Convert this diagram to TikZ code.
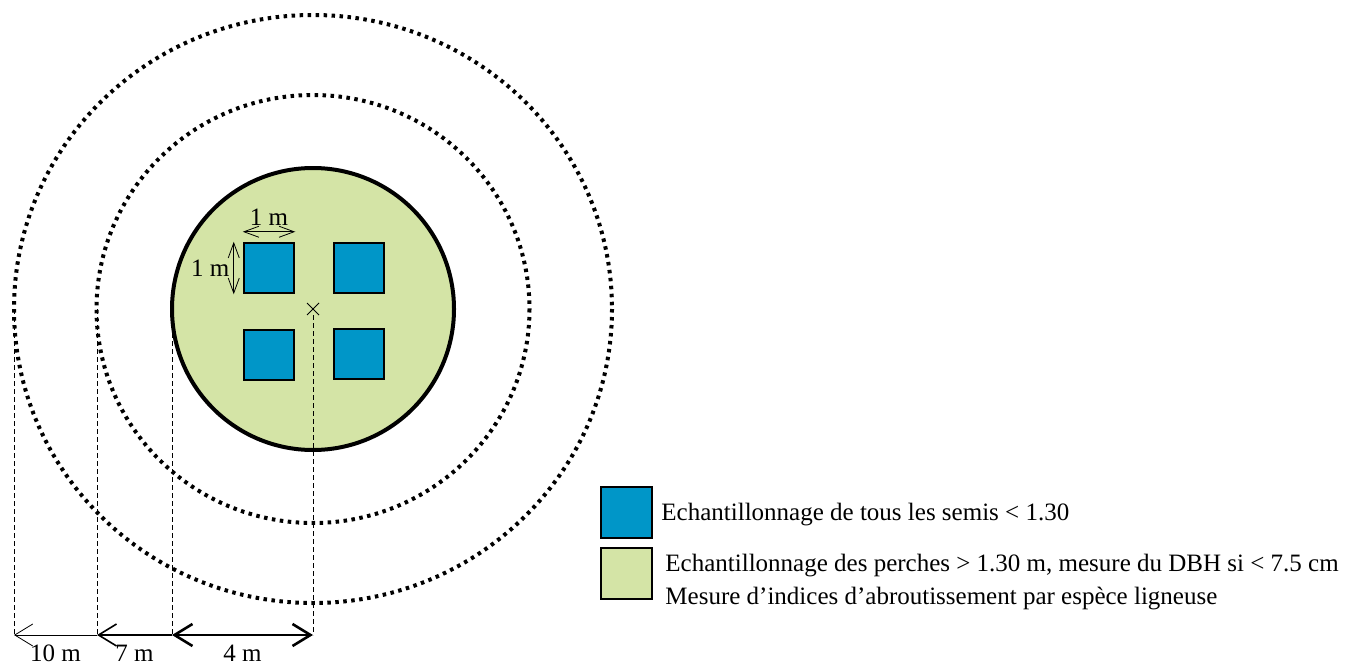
\documentclass[tikz,border=0pt]{standalone}
\usepackage{fontspec}
\setmainfont{Liberation Serif}
\usetikzlibrary{arrows.meta}
\definecolor{semis}{RGB}{0,150,200}
\definecolor{perches}{RGB}{212,228,166}

\begin{document}
\begin{tikzpicture}[x=1pt, y=-1pt,
  ring/.style={line width=4pt, dash pattern=on 3.5pt off 4.5pt},
  quadrat/.style={draw, fill=semis, line width=2.5pt, minimum size=50pt, inner sep=0pt},
  guide/.style={dash pattern=on 5pt off 3pt, line width=0.8pt},
  bigbarb/.tip={Straight Barb[length=18pt, width=22pt]},
  smallbarb/.tip={Straight Barb[length=15pt, width=11pt]},
  lbl/.style={font=\fontsize{25}{30}\selectfont, inner sep=0pt},
  legend/.style={font=\fontsize{25}{33}\selectfont, inner sep=0pt, anchor=west, align=left}]
\useasboundingbox (0,0) rectangle (1354,666);
\coordinate (centre) at (313,309);
\coordinate (r10) at (14,309);
\coordinate (r7) at (97,309);
\coordinate (r4) at (172,309);

% guide lines down to the dimension line
\foreach \p in {r10, r7, r4}
  \draw[guide] (\p) -- (\p |- 0,635) coordinate (\p-foot);

% plots
\draw[ring] (centre) ellipse [x radius=299, y radius=294];
\draw[ring] (centre) ellipse [x radius=216.5, y radius=214];
\draw[line width=4pt, fill=perches] (centre) circle (141);
\draw[guide] ([yshift=-6pt]centre) -- (centre |- 0,635) coordinate (centre-foot);
\draw[line width=1pt] (centre) ++(-6,-6) -- ++(12,12) (centre) ++(-6,6) -- ++(12,-12);

% quadrats
\node[quadrat] (q1) at (269,268) {};
\node[quadrat] (q2) at (359,268) {};
\node[quadrat] (q3) at (269,355) {};
\node[quadrat] (q4) at (359,354) {};

\draw[smallbarb-smallbarb, line width=0.8pt] ([yshift=10pt]q1.north west) -- ([yshift=10pt]q1.north east)
  node[midway, lbl, above=6pt] {1 m};
\draw[smallbarb-smallbarb, line width=0.8pt] ([xshift=-9pt]q1.north west) -- ([xshift=-9pt]q1.south west)
  node[midway, lbl, left=4pt] {1 m};

% radii
\draw[bigbarb-, line width=0.8pt] (r10-foot) -- (r7-foot) node[midway, lbl, below=9pt] {10 m};
\draw[bigbarb-, line width=1.6pt] (r7-foot) -- (r4-foot) node[midway, lbl, below=9pt] {7 m};
\draw[bigbarb-bigbarb, line width=2.6pt] (r4-foot) -- (centre-foot) node[midway, lbl, below=9pt] {4 m};

% legend
\node[draw, fill=semis, line width=2.5pt, minimum size=51pt, inner sep=0pt] (key1) at (626.5,512.5) {};
\node[draw, fill=perches, line width=2.5pt, minimum size=51pt, inner sep=0pt] (key2) at (626.5,573.5) {};
\node[legend] (txt1) at ([xshift=8pt, yshift=-2pt]key1.east) {Echantillonnage de tous les semis < 1.30};
\node[legend] (txt2) at ([xshift=12pt, yshift=-9pt]key2.east) {Echantillonnage des perches > 1.30 m, mesure du DBH si < 7.5 cm\\Mesure d’indices d’abroutissement par espèce ligneuse};
\end{tikzpicture}
\end{document}
